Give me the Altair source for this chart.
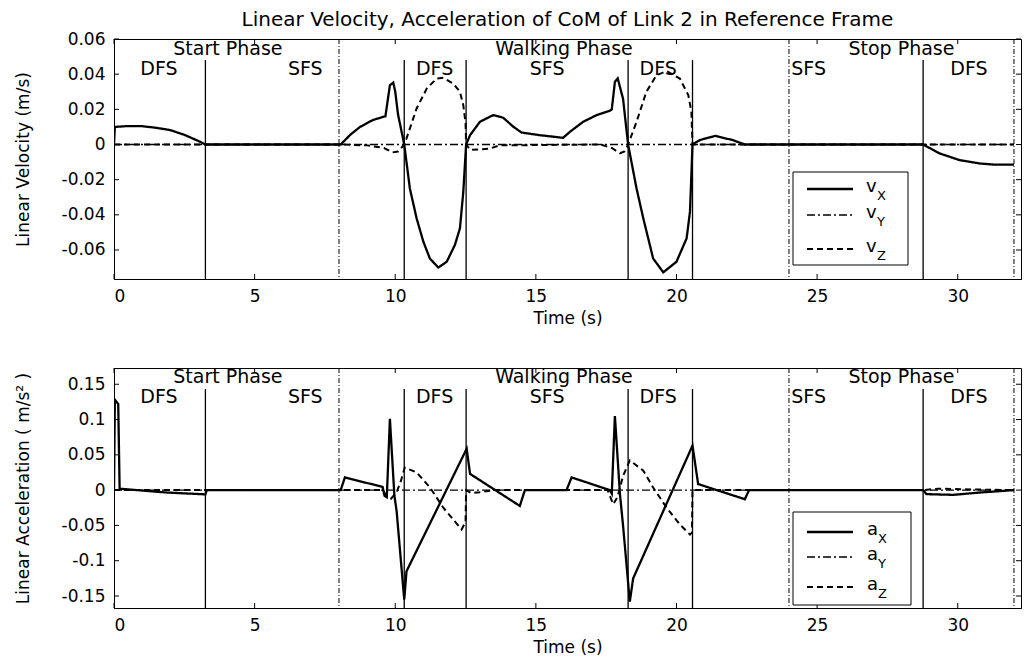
import altair as alt
import pandas as pd

FONT = "DejaVu Sans"

# ---------------- phase structure ----------------
long_lines = [8.0, 24.0, 32.0]
short_lines = [3.25, 10.32, 12.52, 18.28, 20.57, 28.77]
phase_names = ["Start Phase", "Walking Phase", "Stop Phase"]
phase_pos = [4.05, 16.0, 28.0]
stage_names = ["DFS", "SFS", "DFS", "SFS", "DFS", "SFS", "DFS"]
stage_pos = [1.6, 6.8, 11.4, 15.4, 19.35, 24.7, 30.4]

x_ticks = [0, 5, 10, 15, 20, 25, 30]
vel_ticks = [-0.06, -0.04, -0.02, 0, 0.02, 0.04, 0.06]
acc_ticks = [-0.15, -0.1, -0.05, 0, 0.05, 0.1, 0.15]

# ---------------- velocity ----------------
vx_t = [0, 0.03, 0.5, 1.0, 1.5, 2.0, 2.5, 3.0, 3.25, 8.06, 8.4, 8.75, 9.2, 9.57, 9.65,
        9.81, 9.93, 10.0, 10.1, 10.32, 10.52, 10.76, 11.0, 11.23, 11.53, 11.83, 12.12,
        12.3, 12.42, 12.52, 12.66, 13.01, 13.48, 13.84, 14.2, 14.49, 15.14, 15.97,
        16.21, 16.68, 17.16, 17.63, 17.7, 17.81, 17.91, 18.1, 18.28, 18.58, 18.82,
        19.17, 19.53, 20.0, 20.36, 20.48, 20.57, 20.83, 21.37, 22.0, 22.43, 28.77,
        29.36, 30.07, 30.79, 31.26, 32.0]
vx = [0, 0.0100, 0.0105, 0.0104, 0.0095, 0.0082, 0.0055, 0.0020, 0, 0, 0.0055, 0.0100,
      0.0139, 0.0157, 0.0160, 0.0337, 0.0352, 0.0300, 0.0170, 0, -0.025, -0.042, -0.0553,
      -0.0648, -0.0700, -0.0667, -0.0572, -0.0477, -0.027, 0, 0.0053, 0.0129, 0.0167,
      0.0152, 0.0101, 0.0068, 0.0053, 0.0038, 0.0072, 0.0129, 0.0167, 0.0192, 0.0200,
      0.0356, 0.0376, 0.0260, 0, -0.025, -0.042, -0.0648, -0.0727, -0.0667, -0.0534,
      -0.0382, 0, 0.0025, 0.0049, 0.0025, 0, 0, -0.0051, -0.0089, -0.0108, -0.0114,
      -0.0115]

vy_t = [0, 32.0]
vy = [0, 0]

vz_t = [0, 3.25, 8.06, 9.0, 9.6, 9.9, 10.1, 10.32, 10.4, 10.76, 11.12, 11.47, 11.71,
        12.06, 12.3, 12.42, 12.5, 12.52, 12.66, 13.0, 13.37, 13.7, 17.3, 17.7, 17.99,
        18.15, 18.28, 18.58, 18.93, 19.29, 19.65, 20.12, 20.42, 20.53, 20.57, 32.0]
vz = [0, 0, 0, -0.0005, -0.002, -0.0045, -0.004, 0, 0.0034, 0.0205, 0.0318, 0.0375,
      0.0379, 0.0347, 0.030, 0.0224, 0.012, 0, -0.003, -0.0028, -0.0023, -0.0005, 0,
      -0.002, -0.005, -0.004, 0, 0.0129, 0.030, 0.0394, 0.0417, 0.0375, 0.0281, 0.0186,
      0, 0]

# ---------------- acceleration ----------------
ax_t = [0, 0.03, 0.15, 0.2, 1.87, 3.25, 3.3, 8.06, 8.21, 9.55, 9.62, 9.7, 9.81, 9.97,
        10.05, 10.32, 10.4, 12.54, 12.66, 14.43, 14.61, 16.09, 16.27, 17.63, 17.7,
        17.81, 17.99, 18.1, 18.34, 18.46, 20.57, 20.77, 22.43, 22.58, 28.77, 28.89,
        29.84, 30.79, 32.0]
ax = [0, 0.128, 0.122, 0.002, -0.0034, -0.006, 0, 0, 0.018, 0.0045, -0.008, -0.010,
      0.101, -0.008, -0.030, -0.155, -0.115, 0.0586, 0.023, -0.0224, 0, 0, 0.018, 0,
      -0.005, 0.105, -0.006, -0.050, -0.158, -0.125, 0.063, 0.0086, -0.0129, 0, 0,
      -0.0057, -0.0067, -0.0034, 0]

ay_t = [0, 32.0]
ay = [0, 0]

az_t = [0, 8.06, 9.55, 9.7, 9.85, 10.05, 10.2, 10.34, 10.76, 11.23, 11.71, 12.36,
        12.5, 12.52, 12.7, 13.0, 13.5, 17.55, 17.75, 17.9, 18.1, 18.34, 18.82, 19.17,
        19.65, 20.12, 20.48, 20.55, 20.57, 28.77, 29.3, 30.5, 32.0]
az = [0, 0, 0, -0.008, -0.012, -0.003, 0.013, 0.032, 0.025, 0.004, -0.025, -0.0557,
      -0.045, 0, -0.004, -0.003, 0, 0, -0.020, -0.010, 0.020, 0.042, 0.0276, 0.0037,
      -0.025, -0.0486, -0.063, -0.060, 0, 0, 0.002, 0.001, 0]

SERIES = ["X", "Y", "Z"]
DASHES = [[1, 0], [8, 3, 2, 3], [6, 4]]
WIDTHS = [2.3, 1.4, 2.0]

XMAX = 32.25
W = 907
H = 240


def frame(ts, vs):
    return pd.DataFrame({"t": ts, "value": vs, "i": list(range(len(ts)))})


LAB_EXPR = "datum.value == 0 ? '0' : replace(format(datum.value, '.2~f'), '\u2212', '-')"


def panel(parts, ydom, yticks, ytitle, letter, leg, ph_y, st_y, title=None):
    xs = alt.Scale(domain=[0, XMAX], nice=False, zero=False)
    ys = alt.Scale(domain=ydom, nice=False, zero=False)
    xaxis = alt.Axis(values=x_ticks, format="d", ticks=False, tickSize=0,
                     labelPadding=9, grid=False, domainColor="black",
                     titleY=31, titleBaseline="top")
    yaxis = alt.Axis(values=yticks, labelExpr=LAB_EXPR, ticks=False, tickSize=0,
                     labelPadding=9, grid=False, domainColor="black",
                     titleX=-82, titleY=H / 2)

    def X():
        return alt.X("t:Q", scale=xs, title="Time (s)", axis=xaxis)

    def Y():
        return alt.Y("value:Q", scale=ys, title=ytitle, axis=yaxis)

    line_layers = []
    for k, (ts, vs) in enumerate(parts):
        line_layers.append(
            alt.Chart(frame(ts, vs)).mark_line(
                color="black", clip=True, strokeWidth=WIDTHS[k], strokeDash=DASHES[k]
            ).encode(x=X(), y=Y(), order="i:Q"))

    xt = pd.DataFrame({"t": x_ticks})
    yt = pd.DataFrame({"value": yticks})
    tick_layers = [
        alt.Chart(xt).mark_rule(color="black", strokeWidth=1).encode(
            x=X(), y=alt.value(H), y2=alt.value(H - 5)),
        alt.Chart(xt).mark_rule(color="black", strokeWidth=1).encode(
            x=X(), y=alt.value(0), y2=alt.value(5)),
        alt.Chart(yt).mark_rule(color="black", strokeWidth=1).encode(
            y=Y(), x=alt.value(0), x2=alt.value(5)),
        alt.Chart(yt).mark_rule(color="black", strokeWidth=1).encode(
            y=Y(), x=alt.value(W - 5), x2=alt.value(W)),
    ]

    long_df = pd.DataFrame({"t": long_lines})
    short_df = pd.DataFrame({"t": short_lines})
    bounds = [
        alt.Chart(long_df).mark_rule(color="black", strokeWidth=1,
                                     strokeDash=[5, 2, 1, 2]).encode(
            x=X(), y=alt.value(0), y2=alt.value(H)),
        alt.Chart(short_df).mark_rule(color="black", strokeWidth=1.3).encode(
            x=X(), y=alt.value(21), y2=alt.value(H)),
    ]

    ph_df = pd.DataFrame({"t": phase_pos, "label": phase_names})
    st_df = pd.DataFrame({"t": stage_pos, "label": stage_names})
    texts = [
        alt.Chart(ph_df).mark_text(font=FONT, fontSize=19, color="black",
                                   align="center", baseline="alphabetic").encode(
            x=X(), y=alt.value(ph_y), text="label:N"),
        alt.Chart(st_df).mark_text(font=FONT, fontSize=19, color="black",
                                   align="center", baseline="alphabetic").encode(
            x=X(), y=alt.value(st_y), text="label:N"),
    ]

    one = pd.DataFrame({"k": [0]})
    legend = [
        alt.Chart(one).mark_rect(fill="white", stroke="black", strokeWidth=1).encode(
            x=alt.value(leg["box"][0]), x2=alt.value(leg["box"][1]),
            y=alt.value(leg["box"][2]), y2=alt.value(leg["box"][3]))
    ]
    for k, name in enumerate(SERIES):
        ry = leg["rows"][k]
        legend.append(alt.Chart(one).mark_rule(color="black", strokeWidth=WIDTHS[k],
                                               strokeDash=DASHES[k]).encode(
            x=alt.value(leg["line"][0]), x2=alt.value(leg["line"][1]), y=alt.value(ry)))
        legend.append(alt.Chart(one).mark_text(text=letter, font=FONT, fontSize=18,
                                               color="black", align="left",
                                               baseline="alphabetic").encode(
            x=alt.value(leg["tx"]), y=alt.value(ry + 3)))
        legend.append(alt.Chart(one).mark_text(text=name, font=FONT, fontSize=13,
                                               color="black", align="left",
                                               baseline="alphabetic").encode(
            x=alt.value(leg["tx"] + 11), y=alt.value(ry + 11)))

    layers = line_layers + bounds + tick_layers + texts + legend
    ch = alt.layer(*layers).properties(width=W, height=H)
    if title:
        ch = ch.properties(title=alt.TitleParams(
            title, font=FONT, fontSize=20, fontWeight="normal", anchor="middle",
            frame="group", offset=0, color="black"))
    return ch


top = panel([(vx_t, vx), (vy_t, vy), (vz_t, vz)], [-0.0765, 0.06], vel_ticks,
            "Linear Velocity (m/s)", "v",
            {"box": [679, 794, 133, 226], "line": [693, 739], "rows": [150, 176, 210],
             "tx": 752}, 16, 36,
            title="Linear Velocity, Acceleration of CoM of Link 2 in Reference Frame")
bottom = panel([(ax_t, ax), (ay_t, ay), (az_t, az)], [-0.167, 0.173], acc_ticks,
               "Linear Acceleration ( m/s\u00b2 )", "a",
               {"box": [679, 797, 144, 237], "line": [693, 739], "rows": [164, 189, 219],
                "tx": 753}, 15, 35)

chart = alt.vconcat(top, bottom, spacing=40).properties(
    padding={"left": 5, "top": 1, "right": 0, "bottom": 0}
).configure_view(stroke="black", strokeWidth=1).configure_axis(
    labelFont=FONT, labelFontSize=17, labelColor="black",
    titleFont=FONT, titleFontSize=17, titleFontWeight="normal", titleColor="black",
    domainWidth=1,
)

chart.save("out.html", embed_options={"renderer": "svg", "actions": False})
